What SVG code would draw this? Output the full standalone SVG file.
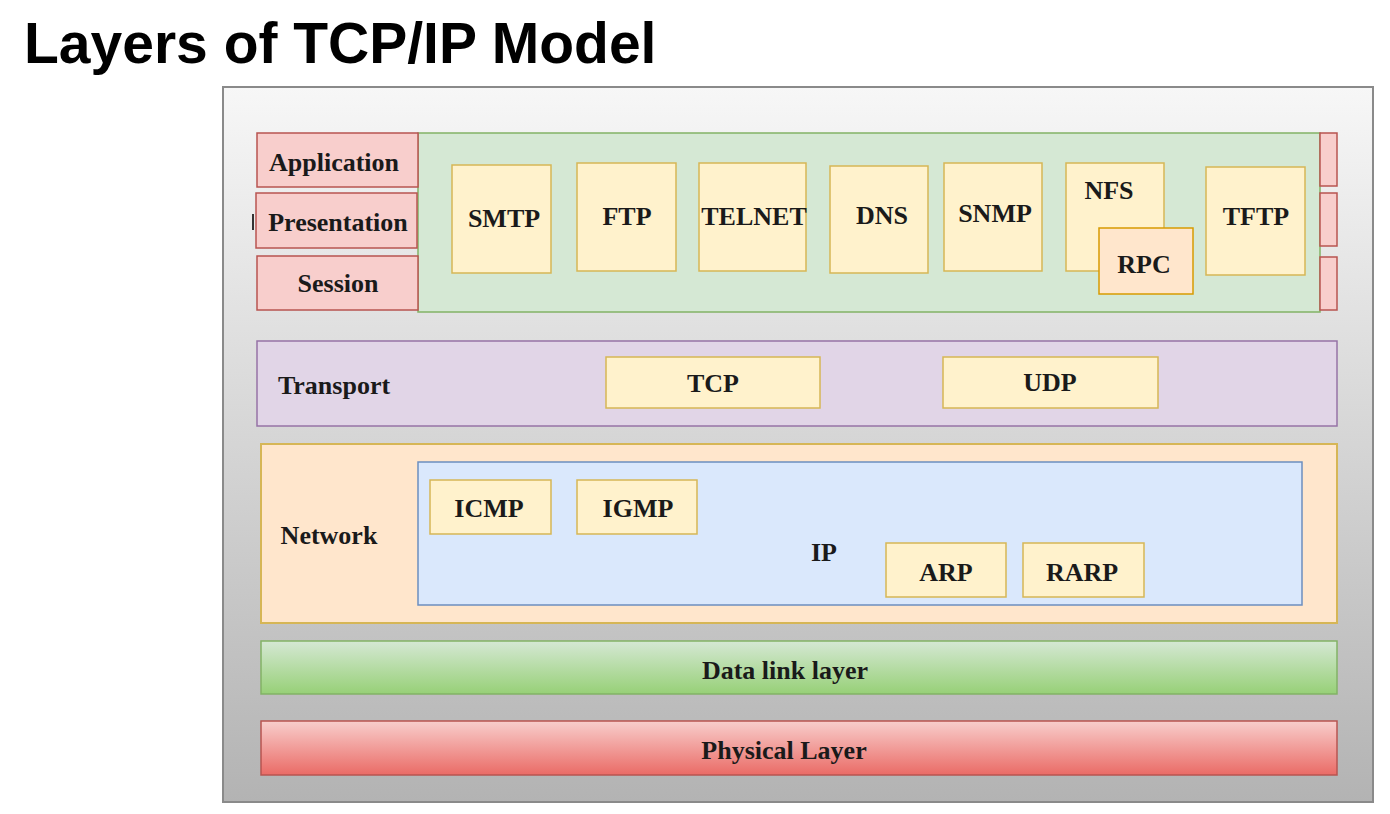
<svg xmlns="http://www.w3.org/2000/svg" width="1390" height="814" viewBox="0 0 1390 814">
<defs>
<linearGradient id="bg" x1="0" y1="0" x2="0" y2="1"><stop offset="0" stop-color="#f7f7f7"/><stop offset="1" stop-color="#b3b3b3"/></linearGradient>
<linearGradient id="gDL" x1="0" y1="0" x2="0" y2="1"><stop offset="0" stop-color="#d5e8d4"/><stop offset="1" stop-color="#97d077"/></linearGradient>
<linearGradient id="gPH" x1="0" y1="0" x2="0" y2="1"><stop offset="0" stop-color="#f8cecc"/><stop offset="1" stop-color="#ea6b66"/></linearGradient>
</defs>
<style>
.t{font-family:"Liberation Serif","Times New Roman",serif;font-weight:bold;font-size:26px;fill:#1a1a1a;text-anchor:middle}
.pink{fill:#f8cecc;stroke:#b85450;stroke-width:1.5}
.yel{fill:#fff2cc;stroke:#d6b656;stroke-width:1.5}
.rpc{fill:#ffe6cc;stroke:#d79b00;stroke-width:1.5}
</style>
<rect width="1390" height="814" fill="#ffffff"/>
<text x="24" y="63" font-family="'Liberation Sans',Arial,sans-serif" font-weight="bold" font-size="57" fill="#000">Layers of TCP/IP Model</text>
<g id="frame"><rect x="223" y="87" width="1150" height="715" fill="url(#bg)" stroke="#8a8a8a" stroke-width="2"/></g>
<g id="connectors"></g>
<g id="app-area"><rect x="418" y="133" width="902" height="179" fill="#d5e8d4" stroke="#82b366" stroke-width="1.5"/></g>
<g id="application"><rect class="pink" x="257" y="133" width="161" height="54"/><text class="t" x="334" y="171">Application</text></g>
<line x1="253" y1="214" x2="253" y2="230" stroke="#333" stroke-width="2"/>
<g id="presentation"><rect class="pink" x="256" y="193" width="161" height="55"/><text class="t" x="338" y="231">Presentation</text></g>
<g id="session"><rect class="pink" x="257" y="256" width="161" height="54"/><text class="t" x="338" y="292">Session</text></g>
<g id="r1"><rect class="pink" x="1320" y="133" width="17" height="53"/></g>
<g id="r2"><rect class="pink" x="1320" y="193" width="17" height="53"/></g>
<g id="r3"><rect class="pink" x="1320" y="257" width="17" height="53"/></g>
<g id="smtp"><rect class="yel" x="452" y="165" width="99" height="108"/><text class="t" x="504" y="227">SMTP</text></g>
<g id="ftp"><rect class="yel" x="577" y="163" width="99" height="108"/><text class="t" x="627" y="225">FTP</text></g>
<g id="telnet"><rect class="yel" x="699" y="163" width="107" height="108"/><text class="t" x="754" y="225">TELNET</text></g>
<g id="dns"><rect class="yel" x="830" y="166" width="98" height="107"/><text class="t" x="882" y="224">DNS</text></g>
<g id="snmp"><rect class="yel" x="944" y="163" width="98" height="108"/><text class="t" x="995" y="222">SNMP</text></g>
<g id="nfs"><rect class="yel" x="1066" y="163" width="98" height="108"/><text class="t" x="1109" y="199">NFS</text></g>
<g id="rpc"><rect class="rpc" x="1099" y="228" width="94" height="66"/><text class="t" x="1144" y="273">RPC</text></g>
<g id="tftp"><rect class="yel" x="1206" y="167" width="99" height="108"/><text class="t" x="1256" y="225">TFTP</text></g>
<g id="transport"><rect x="257" y="341" width="1080" height="85" fill="#e1d5e7" stroke="#9673a6" stroke-width="1.5"/><text class="t" x="334" y="394">Transport</text></g>
<g id="tcp"><rect class="yel" x="606" y="357" width="214" height="51"/><text class="t" x="713" y="392">TCP</text></g>
<g id="udp"><rect class="yel" x="943" y="357" width="215" height="51"/><text class="t" x="1050" y="391">UDP</text></g>
<g id="network"><rect x="261" y="444" width="1076" height="179" fill="#ffe6cc" stroke="#d6b656" stroke-width="2"/><text class="t" x="329" y="544">Network</text></g>
<g id="ip"><rect x="418" y="462" width="884" height="143" fill="#dae8fc" stroke="#6c8ebf" stroke-width="1.5"/><text class="t" x="824" y="561">IP</text></g>
<g id="icmp"><rect class="yel" x="430" y="480" width="121" height="54"/><text class="t" x="489" y="517">ICMP</text></g>
<g id="igmp"><rect class="yel" x="577" y="480" width="120" height="54"/><text class="t" x="638" y="517">IGMP</text></g>
<g id="arp"><rect class="yel" x="886" y="543" width="120" height="54"/><text class="t" x="946" y="581">ARP</text></g>
<g id="rarp"><rect class="yel" x="1023" y="543" width="121" height="54"/><text class="t" x="1082" y="581">RARP</text></g>
<g id="datalink"><rect x="261" y="641" width="1076" height="53" fill="url(#gDL)" stroke="#82b366" stroke-width="1.5"/><text class="t" x="785" y="679">Data link layer</text></g>
<g id="physical"><rect x="261" y="721" width="1076" height="54" fill="url(#gPH)" stroke="#b85450" stroke-width="1.5"/><text class="t" x="784" y="759">Physical Layer</text></g>
</svg>
